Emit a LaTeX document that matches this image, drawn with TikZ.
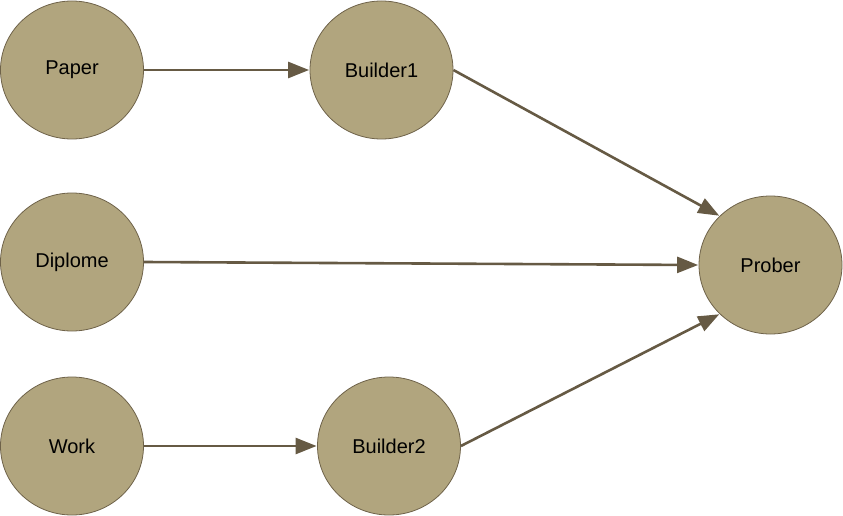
\documentclass[tikz,border=0pt]{standalone}
\usepackage{fontspec}
\setmainfont{Liberation Sans}
\usetikzlibrary{shapes.geometric,arrows.meta}
\definecolor{nodefill}{HTML}{B1A57E}
\definecolor{nodeline}{HTML}{6E6249}
\definecolor{edgecol}{HTML}{665A44}
\tikzset{
  stnode/.style={ellipse, draw=nodeline, line width=0.8pt, fill=nodefill,
    minimum width=143pt, minimum height=138pt, inner sep=0pt,
    font=\fontsize{20}{24}\selectfont, text=black},
  conn/.style={draw=edgecol, line width=2.6pt,
    -{Triangle[length=21pt,width=16pt]}, shorten >=0.5pt}
}
\begin{document}
\begin{tikzpicture}[x=1pt,y=-1pt]
\useasboundingbox (0,0) rectangle (843,516);
\node[stnode] (paper) at (72,70) {Paper};
\node[stnode] (b1) at (381.5,70) {Builder1};
\node[stnode] (dip) at (72,262) {Diplome};
\node[stnode] (work) at (72,446) {Work};
\node[stnode] (b2) at (389,446) {Builder2};
\node[stnode] (prober) at (770.5,265) {Prober};
\draw[conn] (paper.east) -- (b1.west);
\draw[conn] (b1.east) -- (prober.north west);
\draw[conn] (dip.east) -- (prober.west);
\draw[conn] (work.east) -- (b2.west);
\draw[conn] (b2.east) -- (prober.south west);
\end{tikzpicture}
\end{document}
